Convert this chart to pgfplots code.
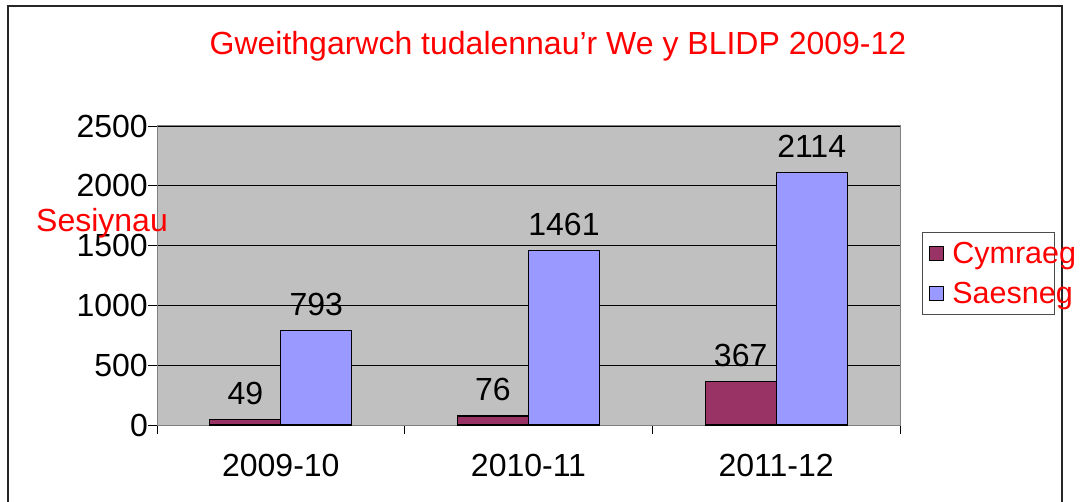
\documentclass[border=0pt]{standalone}
\usepackage{pgfplots}
\pgfplotsset{compat=1.18}
\usepackage{fontspec}
\setmainfont{Liberation Sans}
\definecolor{cym}{HTML}{993366}
\definecolor{sae}{HTML}{9999FF}
\definecolor{plotbg}{HTML}{C0C0C0}
\definecolor{frm}{HTML}{808080}
\begin{document}
\begin{tikzpicture}
\path[use as bounding box] (0,0) rectangle (1085pt,501pt);
\draw[black!85, line width=1.5pt] (8pt,-5pt) -- (8pt,495pt) -- (1062pt,495pt) -- (1062pt,-5pt);
\begin{axis}[
  at={(157pt,76pt)}, anchor=south west,
  scale only axis, width=743pt, height=299pt,
  ybar, bar width=71pt,
  xmin=-0.5, xmax=2.5, ymin=0, ymax=2500,
  ytick={0,500,1000,1500,2000,2500},
  xtick={-0.5,0.5,1.5,2.5}, xticklabels={},
  extra x ticks={0,1,2},
  extra x tick labels={2009-10,2010-11,2011-12},
  extra x tick style={major tick length=0pt, grid=none},
  tick align=outside, major tick length=9pt,
  xtick pos=bottom, ytick pos=left,
  tick style={black, line width=0.8pt},
  ymajorgrids, grid style={black, line width=0.8pt},
  axis background/.style={fill=plotbg},
  axis line style={frm, line width=1pt},
  /pgf/number format/1000 sep={},
  /pgf/number format/assume math mode=true,
  tick label style={font=\fontsize{32}{36}\selectfont},
  yticklabel style={anchor=east, inner sep=0pt, xshift=0pt},
  xticklabel style={anchor=center, inner sep=0pt, yshift=-40pt},
  nodes near coords,
  nodes near coords style={font=\fontsize{32}{36}\selectfont, anchor=south, inner sep=0pt, yshift=14pt, black},
  legend style={at={(rel axis cs:1.0296,0.6455)}, anchor=north west,
    draw=black!70, line width=0.8pt, fill=white, text=red,
    font=\fontsize{30.5}{35}\selectfont, inner xsep=7pt, inner ysep=7.5pt,
    row sep=13.5pt},
  legend cell align=left,
  legend image code/.code={\draw[#1, line width=1pt] (0pt,-7pt) rectangle (14pt,7pt);},
]
\addplot[fill=cym, draw=black, line width=1.2pt, bar shift=-35.5pt] coordinates {(0,49) (1,76) (2,367)};
\addplot[fill=sae, draw=black, line width=1.2pt, bar shift=35.5pt] coordinates {(0,793) (1,1461) (2,2114)};
\legend{\makebox[99pt][l]{\hspace{6pt}Cymraeg},\makebox[99pt][l]{\hspace{6pt}Saesneg}}
\end{axis}
\node[red, font=\fontsize{32}{36}\selectfont] at (558pt,455pt) {Gweithgarwch tudalennau’r We y BLIDP 2009-12};
\node[red, font=\fontsize{32}{36}\selectfont, inner sep=0pt] at (102pt,278pt) {Sesiynau};
\end{tikzpicture}
\end{document}
